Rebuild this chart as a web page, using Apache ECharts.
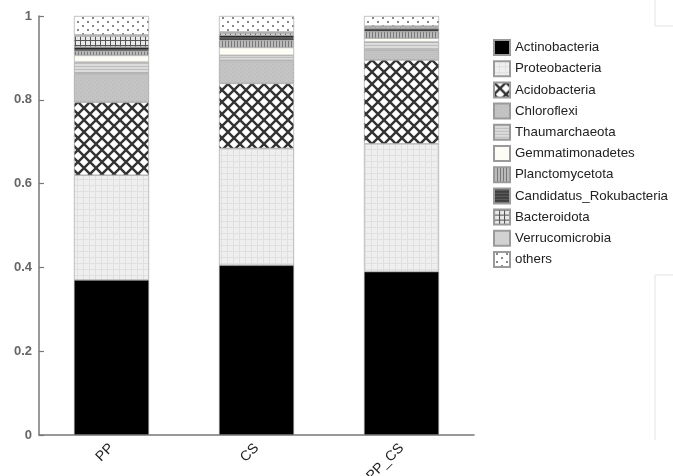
<!DOCTYPE html>
<html>
<head>
<meta charset="utf-8">
<script src="https://cdn.jsdelivr.net/npm/echarts@6/dist/echarts.min.js"></script>
<style>html,body{margin:0;padding:0;background:#fff}#c{width:673px;height:476px}</style>
</head>
<body>
<div id="c"></div>
<script>
const categories = ['PP', 'CS', 'PP_CS'];
const seriesNames = ['Actinobacteria','Proteobacteria','Acidobacteria','Chloroflexi','Thaumarchaeota','Gemmatimonadetes','Planctomycetota','Candidatus_Rokubacteria','Bacteroidota','Verrucomicrobia','others'];
const actinobacteria   = [0.370, 0.405, 0.390];
const proteobacteria   = [0.250, 0.279, 0.305];
const acidobacteria    = [0.174, 0.155, 0.200];
const chloroflexi      = [0.069, 0.055, 0.024];
const thaumarchaeota   = [0.027, 0.012, 0.019];
const gemmatimonadetes = [0.016, 0.019, 0.009];
const planctomycetota  = [0.010, 0.017, 0.016];
const candidatus       = [0.010, 0.012, 0.008];
const bacteroidota     = [0.026, 0.005, 0.003];
const verrucomicrobia  = [0.003, 0.003, 0.002];
const others           = [0.045, 0.038, 0.024];
const yTicks = [0, 0.2, 0.4, 0.6, 0.8, 1];

function pat(w, h, draw) {
  const cv = document.createElement('canvas');
  cv.width = w; cv.height = h;
  const g = cv.getContext('2d');
  draw(g, w, h);
  return { image: cv, repeat: 'repeat' };
}
const fills = [
  '#000000',
  pat(6, 6, (g) => { g.fillStyle = '#efefef'; g.fillRect(0,0,6,6); g.fillStyle = '#e0e0e0'; g.fillRect(0,5,6,1); g.fillRect(5,0,1,6); }),
  pat(12, 12, (g) => { g.fillStyle = '#ffffff'; g.fillRect(0,0,12,12); g.strokeStyle = '#333'; g.lineWidth = 2.4;
      g.beginPath(); g.moveTo(-1,-1); g.lineTo(13,13); g.moveTo(13,-1); g.lineTo(-1,13); g.stroke(); }),
  pat(4, 4, (g) => { g.fillStyle = '#c4c4c4'; g.fillRect(0,0,4,4); g.fillStyle = '#b8b8b8'; g.fillRect(0,0,1,1); g.fillRect(2,2,1,1); }),
  pat(3, 3, (g) => { g.fillStyle = '#dcdcdc'; g.fillRect(0,0,3,3); g.fillStyle = '#bdbdbd'; g.fillRect(0,0,3,1); }),
  '#fdfdf6',
  pat(3, 3, (g) => { g.fillStyle = '#bbbbbb'; g.fillRect(0,0,3,3); g.fillStyle = '#777777'; g.fillRect(0,0,1,3); }),
  pat(3, 3, (g) => { g.fillStyle = '#5a5a5a'; g.fillRect(0,0,3,3); g.fillStyle = '#2a2a2a'; g.fillRect(0,0,3,1); }),
  pat(5, 5, (g) => { g.fillStyle = '#e8e8e8'; g.fillRect(0,0,5,5); g.fillStyle = '#555'; g.fillRect(0,0,5,1); g.fillRect(0,0,1,5); }),
  '#d2d2d2',
  pat(10, 8, (g) => { g.fillStyle = '#ffffff'; g.fillRect(0,0,10,8); g.fillStyle = '#888'; g.fillRect(2,1,2,2); g.fillRect(7,5,2,2); })
];
const dataSets = [actinobacteria, proteobacteria, acidobacteria, chloroflexi, thaumarchaeota, gemmatimonadetes, planctomycetota, candidatus, bacteroidota, verrucomicrobia, others];

const chart = echarts.init(document.getElementById('c'), null, { renderer: 'canvas' });
chart.setOption({
  backgroundColor: '#ffffff',
  animation: false,
  textStyle: { fontFamily: 'Liberation Sans, Arial, sans-serif' },
  grid: { left: 39, top: 16, width: 435, bottom: 41, containLabel: false, outerBoundsMode: 'none' },
  legend: {
    orient: 'vertical', left: 493, top: 39, padding: 0,
    itemWidth: 16, itemHeight: 15, itemGap: 4.2,
    icon: 'rect',
    data: seriesNames,
    textStyle: { fontSize: 13.3, lineHeight: 15, color: '#222', fontFamily: 'Liberation Sans, Arial, sans-serif' }
  },
  xAxis: {
    type: 'category', data: categories,
    axisLine: { lineStyle: { color: '#777', width: 1.5 } },
    axisTick: { show: false },
    axisLabel: { rotate: 45, margin: 11, fontSize: 14, color: '#222' }
  },
  yAxis: {
    type: 'value', min: 0, max: 1, interval: 0.2,
    splitLine: { show: false },
    axisLine: { show: true, lineStyle: { color: '#777', width: 1.5 } },
    axisTick: { show: true, inside: true, length: 5, lineStyle: { color: '#777', width: 1.2 } },
    axisLabel: { fontSize: 13, color: '#666', fontWeight: 'bold', margin: 7,
      formatter: (v) => { const t = yTicks.find(x => Math.abs(x - v) < 1e-9); return String(t !== undefined ? t : v); } }
  },
  series: seriesNames.map((n, i) => ({
    name: n, type: 'bar', stack: 'total', barWidth: 75,
    data: dataSets[i],
    itemStyle: { color: fills[i], borderColor: '#9a9a9a', borderWidth: 0.6 }
  })),
  graphic: [
    { type: 'line', shape: { x1: 655, y1: 0, x2: 655, y2: 26 }, style: { stroke: '#e2e2e2', lineWidth: 1 } },
    { type: 'line', shape: { x1: 655, y1: 26, x2: 673, y2: 26 }, style: { stroke: '#e2e2e2', lineWidth: 1 } },
    { type: 'line', shape: { x1: 655, y1: 275, x2: 655, y2: 440 }, style: { stroke: '#e2e2e2', lineWidth: 1 } },
    { type: 'line', shape: { x1: 655, y1: 275, x2: 673, y2: 275 }, style: { stroke: '#e2e2e2', lineWidth: 1 } }
  ]
});
</script>
</body>
</html>
